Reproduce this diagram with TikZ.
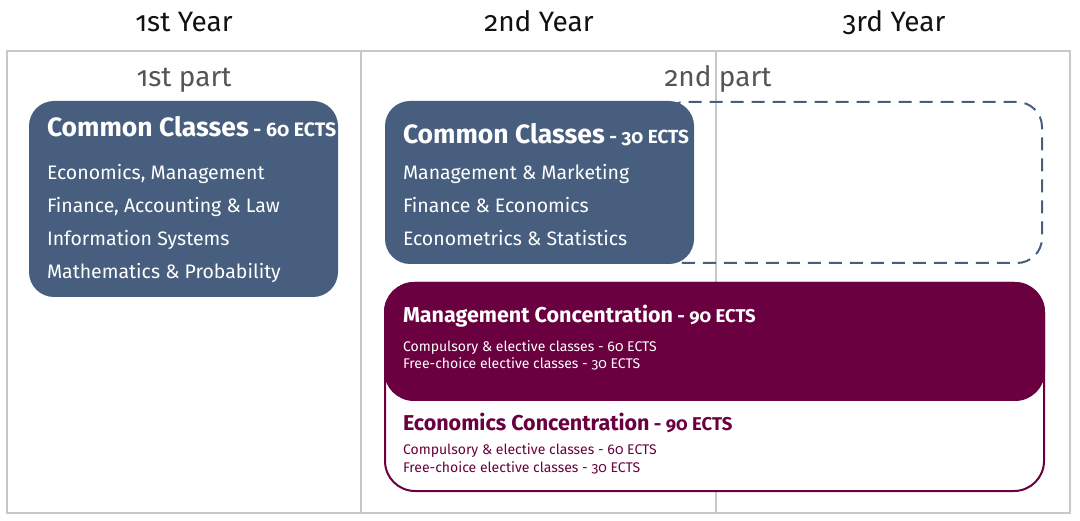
\documentclass[tikz,border=0pt]{standalone}
\usepackage{fontspec}
\setmainfont{Fira Sans}[Numbers=OldStyle]
\definecolor{slate}{HTML}{475E7E}
\definecolor{maroon}{HTML}{6A003F}
\definecolor{framegray}{HTML}{C8C8C8}
\definecolor{partgray}{HTML}{555555}
\definecolor{yearblack}{HTML}{111111}
\begin{document}
\begin{tikzpicture}[x=1pt,y=-1pt,
  txt/.style={anchor=base west,inner sep=0pt,outer sep=0pt},
  head/.style={anchor=base,inner sep=0pt,outer sep=0pt,font=\fontsize{28}{30}\selectfont},
  bigtitle/.style={txt,font=\bfseries\fontsize{26.5}{28}\selectfont},
  body/.style={txt,font=\fontsize{19.5}{22}\selectfont,text=white},
  conctitle/.style={txt,font=\bfseries\fontsize{21.5}{23}\selectfont},
  small/.style={txt,font=\fontsize{14}{16}\selectfont},
  framestyle/.style={draw=framegray,line width=1.5pt},
  bluebox/.style={fill=slate,rounded corners=25pt},
  dashbox/.style={draw=slate,line width=2pt,dash pattern=on 13pt off 8pt,rounded corners=25pt}
]
\useasboundingbox (0,0) rectangle (1080,521);
% frame
\draw[framestyle] (7,51) rectangle (1070,513);
\draw[framestyle] (361,51) -- (361,513);
\draw[framestyle] (716,51) -- (716,513);
% headings
\node[head,text=yearblack] (y1) at (184,32) {1st Year};
\node[head,text=yearblack] (y2) at (539,32) {2nd Year};
\node[head,text=yearblack] (y3) at (894,32) {3rd Year};
\node[head,text=partgray] (p1) at (184,87) {1st part};
\node[head,text=partgray] (p2) at (718,87) {2nd part};
% dashed box
\draw[dashbox] (660,102) rectangle (1042,263);
% blue boxes
\fill[bluebox] (29,101) rectangle (338,297);
\fill[bluebox] (385,101) rectangle (694,264);
% left box text
\node[bigtitle,text=white] (t1) at (47,137) {Common Classes{\fontsize{19.5}{21}\selectfont\ - 60 ECTS}};
\node[body] (l1) at (47,180) {Economics, Management};
\node[body] (l2) at (47,213) {Finance, Accounting \& Law};
\node[body] (l3) at (47,246) {Information Systems};
\node[body] (l4) at (47,279) {Mathematics \& Probability};
% mid box text
\node[bigtitle,text=white] (t2) at (403,144) {Common Classes{\fontsize{19}{21}\selectfont\ - 30 ECTS}};
\node[body] (m1) at (403,180) {Management \& Marketing};
\node[body] (m2) at (403,213) {Finance \& Economics};
\node[body] (m3) at (403,246) {Econometrics \& Statistics};
% concentration boxes
\filldraw[draw=maroon,fill=white,line width=2pt,rounded corners=30pt] (385,283) rectangle (1044,491);
\fill[maroon,rounded corners=30pt] (384,282) rectangle (1045,401);
\node[conctitle,text=white] (c1) at (403,323) {Management Concentration{\fontsize{18.5}{20}\selectfont\ - 90 ECTS}};
\node[small,text=white] (c1a) at (403,352) {Compulsory \& elective classes - 60 ECTS};
\node[small,text=white] (c1b) at (403,369) {Free-choice elective classes - 30 ECTS};
\node[conctitle,text=maroon] (c2) at (403,431) {Economics Concentration{\fontsize{18.5}{20}\selectfont\ - 90 ECTS}};
\node[small,text=maroon] (c2a) at (403,454) {Compulsory \& elective classes - 60 ECTS};
\node[small,text=maroon] (c2b) at (403,472) {Free-choice elective classes - 30 ECTS};
\end{tikzpicture}
\end{document}
